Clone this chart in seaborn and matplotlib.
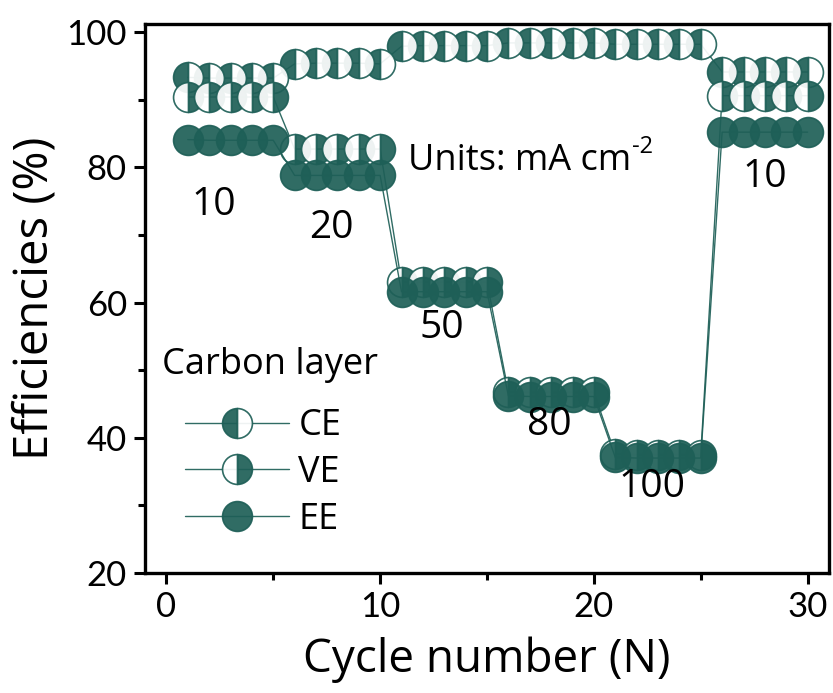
import numpy as np
import pandas as pd
import matplotlib
matplotlib.use("Agg")
import matplotlib.pyplot as plt
import seaborn as sns
from matplotlib.ticker import MultipleLocator

cycles = list(range(1, 31))
ce = [93.3, 93.2, 93.2, 93.2, 93.2,
      95.3, 95.4, 95.4, 95.4, 95.3,
      97.9, 98.0, 98.0, 98.0, 98.0,
      98.4, 98.4, 98.4, 98.4, 98.4,
      98.2, 98.2, 98.2, 98.2, 98.2,
      94.1, 94.1, 94.1, 94.1, 94.1]
ve = [90.4, 90.4, 90.4, 90.4, 90.4,
      82.7, 82.7, 82.7, 82.7, 82.7,
      63.0, 63.0, 63.0, 63.0, 63.0,
      46.8, 46.7, 46.7, 46.7, 46.7,
      37.6, 37.5, 37.5, 37.5, 37.5,
      90.6, 90.6, 90.6, 90.6, 90.6]
ee = [84.1, 84.0, 84.0, 84.0, 84.0,
      78.8, 78.8, 78.8, 78.8, 78.8,
      61.6, 61.6, 61.6, 61.6, 61.6,
      46.2, 46.1, 46.1, 46.1, 46.1,
      37.1, 37.0, 37.0, 37.0, 37.0,
      85.2, 85.2, 85.2, 85.2, 85.2]
current_labels = ["10", "20", "50", "80", "100", "10"]
label_pos_x = [2.2, 7.7, 12.9, 17.9, 22.7, 28.0]
label_pos_y = [74.4, 71.0, 56.2, 41.9, 32.7, 78.6]

df = pd.DataFrame({"cycle": cycles, "CE": ce, "VE": ve, "EE": ee})

sns.set_theme(style="ticks")
plt.rcParams["font.family"] = ["Open Sans", "DejaVu Sans"]
plt.rcParams["text.color"] = "black"
plt.rcParams["axes.labelcolor"] = "black"
plt.rcParams["xtick.color"] = "black"
plt.rcParams["ytick.color"] = "black"

color = "#1e5f57"
fig = plt.figure(figsize=(8.33, 6.93), dpi=100)
ax = fig.add_axes([0.1741, 0.1732, 0.8211, 0.7922])

styles = [("CE", "left"), ("VE", "right"), ("EE", "full")]
for name, fs in styles:
    sns.lineplot(data=df, x="cycle", y=name, ax=ax, color=color, lw=1.0,
                 marker="o", markersize=21.5, fillstyle=fs,
                 markerfacecolor=color, markerfacecoloralt="white",
                 markeredgecolor=color, markeredgewidth=1.2,
                 alpha=0.92, label=name)

ax.set_xlim(-1, 31)
ax.set_ylim(20, 101.2)
ax.xaxis.set_major_locator(MultipleLocator(10))
ax.xaxis.set_minor_locator(MultipleLocator(5))
ax.yaxis.set_major_locator(MultipleLocator(20))
ax.yaxis.set_minor_locator(MultipleLocator(10))
ax.tick_params(which="major", length=8, width=2.2, direction="out",
               labelsize=25, colors="black", pad=5)
ax.tick_params(which="minor", length=5, width=2.2, direction="out")
for lab in ax.get_xticklabels() + ax.get_yticklabels():
    lab.set_family(["Lato", "DejaVu Sans"])
for sp in ax.spines.values():
    sp.set_linewidth(2.4)
    sp.set_color("black")
    sp.set_visible(True)

ax.set_xlabel("Cycle number (N)", fontsize=33, labelpad=10)
ax.set_ylabel("Efficiencies (%)", fontsize=34, labelpad=6)

for t, xx, yy in zip(current_labels, label_pos_x, label_pos_y):
    ax.text(xx, yy, t, fontsize=28, ha="center", va="center")
units = ax.text(11.3, 81.0, "Units: mA cm", fontsize=26, ha="left", va="center")

ax.text(-0.2, 50.8, "Carbon layer", fontsize=26, ha="left", va="center")
leg = ax.legend(loc="upper left", bbox_to_anchor=(0.058, 0.30),
                frameon=False, fontsize=26, handlelength=2.9,
                numpoints=1, labelspacing=0.3, handletextpad=0.25,
                borderaxespad=0.0, borderpad=0.0)

fig.canvas.draw()
bb = units.get_window_extent()
ax.annotate("-2", xy=(bb.x1 + 1, bb.y1 - 4), xycoords="figure pixels",
            fontsize=17, ha="left", va="center")

fig.savefig("out.png", dpi=100)
